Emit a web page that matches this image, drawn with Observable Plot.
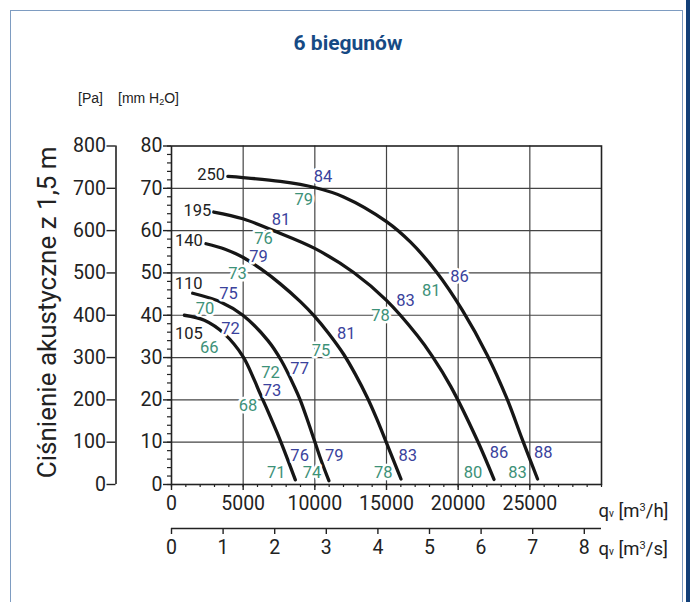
<!DOCTYPE html>
<html>
<head>
<meta charset="utf-8">
<script src="https://cdn.jsdelivr.net/npm/d3@7"></script>
<script src="https://cdn.jsdelivr.net/npm/@observablehq/plot@0.6"></script>
<style>
  body { margin: 0; background: #fff; }
  #page { position: relative; width: 690px; height: 602px; overflow: hidden; font-family: Roboto, sans-serif; background: #fff; }
  #frame { position: absolute; left: 10px; top: 10px; width: 673px; height: 600px; border: 1.5px solid #7e9cc1; border-bottom: none; box-sizing: border-box; }
  #strip { position: absolute; right: 0; top: 0; width: 4px; height: 602px; background: #123f78; }
  #title { position: absolute; left: 0; width: 696px; top: 31px; line-height: 22px; text-align: center; font: 700 21px Roboto, sans-serif; color: #164a84; }
  .unit { position: absolute; top: 90px; line-height: 16px; font: 14px "Liberation Sans", Arial, sans-serif; color: #222; }
  .unit sub { font-size: 9px; vertical-align: -2px; }
  #chart { position: absolute; left: 0; top: 118px; }
</style>
</head>
<body>
<div id="page">
  <div id="frame"></div>
  <div id="strip"></div>
  <div id="title">6 biegunów</div>
  <div class="unit" style="left:78px">[Pa]</div>
  <div class="unit" style="left:118px">[mm H<sub>2</sub>O]</div>
  <div id="chart"></div>
</div>
<script>
// ---- data ----
const speeds = ["250", "195", "140", "110", "105"];
// fan curves: [flow m3/h, pressure mm H2O]
const curve250 = [[3930,72.8],[4980,72.54],[7590,71.63],[9990,70.19],[12010,67.97],[15000,62.14],[16680,57.27],[18500,50.17],[20290,41.2],[22040,30.5],[23390,20.4],[24480,10.6],[25540,1.3]];
const curve195 = [[2950,64.4],[4980,62.8],[7120,60.0],[9990,55.8],[12710,50.1],[15000,43.5],[17150,35.2],[18200,30.3],[19480,23.2],[21340,10.4],[22500,1.2]];
const curve140 = [[2410,56.9],[3740,55.6],[4980,53.7],[6260,50.88],[7590,47.42],[8990,43.22],[9970,39.79],[10940,35.81],[12010,30.78],[12830,26.02],[13650,20.61],[14300,15.67],[14930,10.44],[15490,5.68],[16010,1.3]];
const curve110 = [[1480,45.2],[3460,43.1],[4980,40.0],[6730,34.0],[7660,29.3],[8590,23.0],[8990,19.9],[9520,14.9],[9970,10.4],[10450,5.6],[10980,0.9]];
const curve105 = [[900,40.0],[2290,38.8],[3690,35.6],[4980,30.3],[5790,24.6],[6190,21.4],[6730,17.3],[7360,12.3],[8060,6.3],[8640,1.1]];

// speed labels (anchor in data units)
const speedLabelQ = [2760, 1800, 1210, 1190, 1210];
const speedLabelP = [73.3, 64.6, 57.7, 47.4, 35.6];

// sound levels (upper, blue)
const dbHigh  = [84, 86, 88, 81, 83, 86, 79, 81, 83, 75, 77, 79, 72, 73, 76];
const dbHighQ = [10570, 20100, 25930, 7640, 16330, 22850, 6070, 12200, 16490, 3970, 8940, 11360, 4110, 7010, 8940];
const dbHighP = [72.8, 49.2, 7.4, 62.6, 43.5, 7.4, 53.9, 35.6, 6.9, 45.1, 27.4, 6.9, 36.8, 22.1, 6.9];
// sound levels (lower, green)
const dbLow  = [79, 81, 83, 76, 78, 80, 73, 75, 78, 70, 72, 74, 66, 68, 71];
const dbLowQ = [9220, 18130, 24140, 6420, 14580, 21035, 4600, 10430, 14770, 2340, 6910, 9800, 2640, 5330, 7310];
const dbLowP = [67.3, 45.9, 2.7, 58.1, 40.0, 2.7, 49.8, 31.7, 2.8, 41.5, 26.5, 2.7, 32.3, 18.7, 2.7];

// ticks
const flowTicks = [0, 5000, 10000, 15000, 20000, 25000];
const flowMinor = d3.range(0, 30001, 1000);
const flowGrid = [5000, 10000, 15000, 20000, 25000];
const mmTicks = [0, 10, 20, 30, 40, 50, 60, 70, 80];
const mmMinor = d3.range(0, 81, 2);
const mmGrid = [10, 20, 30, 40, 50, 60, 70];
const paTicks = [0, 100, 200, 300, 400, 500, 600, 700, 800];
const m3sTicks = [0, 1, 2, 3, 4, 5, 6, 7, 8];

// ---- build tables ----
const curves = [curve250, curve195, curve140, curve110, curve105];
const curveRows = curves.flatMap((c, i) => c.map(([q, p]) => ({speed: speeds[i], q, p})));
const speedRows = speeds.map((s, i) => ({text: s, q: speedLabelQ[i], p: speedLabelP[i]}));
const highRows = dbHigh.map((v, i) => ({text: String(v), q: dbHighQ[i], p: dbHighP[i]}));
const lowRows = dbLow.map((v, i) => ({text: String(v), q: dbLowQ[i], p: dbLowP[i]}));

const ink = "#222";
const paOffset = -55.5;
const sAxisOffset = 44;

const chart = Plot.plot({
  width: 690,
  height: 484,
  marginLeft: 171,
  marginRight: 89,
  marginTop: 27.5,
  marginBottom: 118,
  style: {fontFamily: "Roboto, sans-serif", fontSize: "19.5px", color: ink, background: "transparent", overflow: "visible"},
  x: {domain: [0, 30000]},
  y: {domain: [0, 80]},
  marks: [
    Plot.ruleY(mmGrid, {stroke: "#444", strokeWidth: 1.2}),
    Plot.ruleX(flowGrid, {stroke: "#444", strokeWidth: 1.2}),
    Plot.frame({stroke: ink, strokeWidth: 1.6}),
    // left axis mm H2O
    Plot.axisY(mmTicks, {anchor: "left", tickSize: 8, tickPadding: 1, label: null, stroke: ink, strokeWidth: 1.4}),
    Plot.axisY(mmMinor, {anchor: "left", tickSize: 4, tickFormat: () => "", label: null, stroke: ink, strokeWidth: 1.2}),
    // Pa axis
    Plot.ruleX([0], {y1: 0, y2: 80, dx: paOffset, stroke: ink, strokeWidth: 1.6}),
    Plot.axisY(paTicks.map(p => p / 10), {anchor: "left", dx: paOffset, tickSize: 9, tickPadding: 1, tickFormat: d => String(Math.round(d * 10)), label: null, stroke: ink, strokeWidth: 1.4}),
    // bottom axis m3/h
    Plot.axisX(flowTicks, {anchor: "bottom", tickSize: 6, tickPadding: 6, tickFormat: d => String(d), label: null, stroke: ink, strokeWidth: 1.4}),
    Plot.axisX(flowMinor, {anchor: "bottom", tickSize: 3, tickFormat: () => "", label: null, stroke: ink, strokeWidth: 1.2}),
    // second axis m3/s
    Plot.ruleY([0], {x1: 0, x2: 30000, dy: sAxisOffset, stroke: ink, strokeWidth: 1.6}),
    Plot.axisX(m3sTicks.map(v => v * 3600), {anchor: "bottom", dy: sAxisOffset, tickSize: 6, tickPadding: 6, tickFormat: d => String(Math.round(d / 3600)), label: null, stroke: ink, strokeWidth: 1.4}),
    // axis unit labels
    Plot.text(["qv [m3/h]"], {x: 30000, y: 0, dx: -3, dy: 27, textAnchor: "start", fontSize: 18.5, fill: ink}),
    Plot.text(["qv [m3/s]"], {x: 30000, y: 0, dx: -3, dy: 65, textAnchor: "start", fontSize: 18.5, fill: ink}),
    // y title
    Plot.text(["Ciśnienie akustyczne z 1,5 m"], {frameAnchor: "left", textAnchor: "middle", dx: -124, dy: -3, rotate: -90, fontSize: 26, fill: ink, letterSpacing: 1.2}),
    // curves
    Plot.line(curveRows, {x: "q", y: "p", z: "speed", curve: "catmull-rom", stroke: "#161616", strokeWidth: 3.3}),
    // labels
    Plot.text(speedRows, {x: "q", y: "p", text: "text", fontSize: 16.5, fill: "#222"}),
    Plot.text(highRows, {x: "q", y: "p", text: "text", fontSize: 16.5, fill: "#3a429c", stroke: "white", strokeWidth: 5}),
    Plot.text(lowRows, {x: "q", y: "p", text: "text", fontSize: 16.5, fill: "#3d9178", stroke: "white", strokeWidth: 5})
  ]
});

// subscript / superscript for unit labels
d3.select(chart).selectAll("text").each(function() {
  const t = this.textContent;
  const m = t.match(/^qv \[m3\/(h|s)\]$/);
  if (!m) return;
  const sel = d3.select(this);
  sel.text(null);
  sel.append("tspan").text("q");
  sel.append("tspan").attr("font-size", "10px").text("v");
  sel.append("tspan").text(" [m");
  sel.append("tspan").attr("font-size", "11px").attr("baseline-shift", "super").text("3");
  sel.append("tspan").text("/" + m[1] + "]");
});

document.getElementById("chart").appendChild(chart);
</script>
</body>
</html>
